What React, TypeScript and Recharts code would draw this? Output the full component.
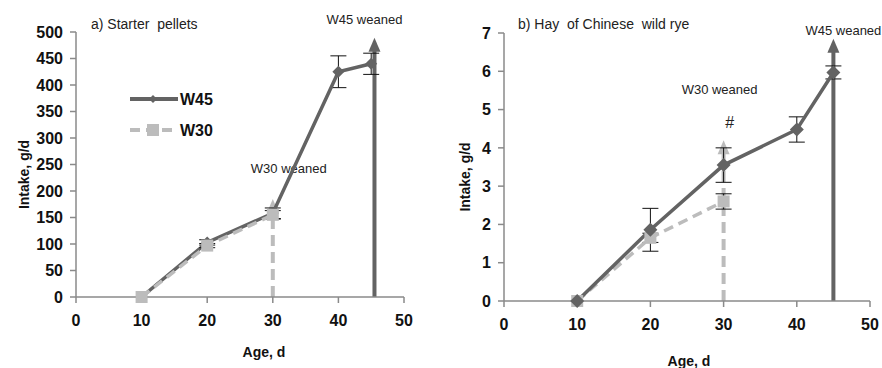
import React from "react";
import {
  LineChart,
  Line,
  XAxis,
  YAxis,
  ErrorBar,
  ReferenceLine,
} from "recharts";

const ages = [10, 20, 30, 40, 45];
const ageTicks = [0, 10, 20, 30, 40, 50];

const pelletW45 = [0, 103, 158, 425, 440];
const pelletW45Err = [0, 5, 10, 30, 20];
const pelletW30 = [0, 97, 155, null, null];
const pelletW30Err = [0, 4, 8, null, null];
const pelletTicks = [0, 50, 100, 150, 200, 250, 300, 350, 400, 450, 500];

const hayW45 = [0, 1.86, 3.55, 4.48, 5.97];
const hayW45Err = [0, 0.56, 0.45, 0.33, 0.17];
const hayW30 = [0, 1.65, 2.6, null, null];
const hayW30Err = [0, 0.12, 0.2, null, null];
const hayTicks = [0, 1, 2, 3, 4, 5, 6, 7];

const DARK = "#636363";
const LIGHT = "#bcbcbc";
const FONT = "'Liberation Sans', Arial, sans-serif";

const pellets = ages.map((a, i) => ({
  age: a,
  w45: pelletW45[i],
  w45err: pelletW45Err[i],
  w30: pelletW30[i],
  w30err: pelletW30Err[i],
}));

const hay = ages.map((a, i) => ({
  age: a,
  w45: hayW45[i],
  w45err: hayW45Err[i],
  w30: hayW30[i],
  w30err: hayW30Err[i],
}));

const Diamond = (size: number) => (p: any) => {
  if (p.value == null || p.cy == null) return <g key={p.index} />;
  const { cx, cy } = p;
  return (
    <polygon
      key={p.index}
      points={`${cx},${cy - size} ${cx + size},${cy} ${cx},${cy + size} ${cx - size},${cy}`}
      fill={DARK}
    />
  );
};

const Square = (size: number) => (p: any) => {
  if (p.value == null || p.cy == null) return <g key={p.index} />;
  const { cx, cy } = p;
  return <rect key={p.index} x={cx - size} y={cy - size} width={size * 2} height={size * 2} fill={LIGHT} />;
};

// vertical arrow with a text above it
const arrow =
  (color: string, dashed: boolean, texts: { t: string; dx: number; dy: number; size: number }[]) =>
  (p: any) => {
    const x = p.x1;
    const top = Math.min(p.y1, p.y2);
    const bottom = Math.max(p.y1, p.y2);
    return (
      <g>
        <line
          x1={x}
          x2={x}
          y1={bottom}
          y2={top + 12}
          stroke={color}
          strokeWidth={4}
          strokeDasharray={dashed ? "11 6" : undefined}
        />
        <polygon points={`${x},${top} ${x + 6},${top + 14} ${x - 6},${top + 14}`} fill={color} />
        {texts.map((tx) => (
          <text
            key={tx.t}
            x={x + tx.dx}
            y={top + tx.dy}
            textAnchor="middle"
            fontFamily={FONT}
            fontSize={tx.size}
            fill="#222"
          >
            {tx.t}
          </text>
        ))}
      </g>
    );
  };

const tickStyle = { fontFamily: FONT, fontSize: 16, fontWeight: "bold", fill: "#111" };

const yLabel = (dx: number) => (p: any) => {
  const vb = p.viewBox;
  const cx = vb.x + dx;
  const cy = vb.y + vb.height / 2 + 10;
  return (
    <text
      x={cx}
      y={cy}
      transform={`rotate(-90 ${cx} ${cy})`}
      textAnchor="middle"
      dominantBaseline="middle"
      fontFamily={FONT}
      fontSize={14}
      fontWeight="bold"
      fill="#111"
    >
      Intake, g/d
    </text>
  );
};

const xLabel = (dx: number, y: number) => (p: any) => {
  const vb = p.viewBox;
  return (
    <text
      x={vb.x + vb.width / 2 + dx}
      y={y}
      textAnchor="middle"
      fontFamily={FONT}
      fontSize={14}
      fontWeight="bold"
      fill="#111"
    >
      Age, d
    </text>
  );
};

const LegendBox = () => (
  <svg width={100} height={50} style={{ position: "absolute", left: 128, top: 89 }}>
    <line x1={2} x2={50} y1={10} y2={10} stroke={DARK} strokeWidth={4} />
    <polygon points="25,6 29,10 25,14 21,10" fill={DARK} />
    <text x={52} y={16} fontFamily={FONT} fontSize={16} fontWeight="bold" fill="#111">
      W45
    </text>
    <line x1={2} x2={46} y1={41} y2={41} stroke={LIGHT} strokeWidth={4} strokeDasharray="10 6" />
    <rect x={19} y={35} width={12} height={12} fill={LIGHT} />
    <text x={52} y={47} fontFamily={FONT} fontSize={16} fontWeight="bold" fill="#111">
      W30
    </text>
  </svg>
);

const axisLine = { stroke: "#8a8a8a", strokeWidth: 1.5 };

export default function App() {
  return (
    <div style={{ position: "absolute", left: 0, top: 0, width: 882, height: 368, background: "#fff" }}>
      <div style={{ position: "absolute", left: 0, top: 0 }}>
        <LineChart width={441} height={368} data={pellets} margin={{ top: 32, right: 37, bottom: 41, left: 36 }}>
          <XAxis
            dataKey="age"
            type="number"
            domain={[0, 50]}
            ticks={ageTicks}
            interval={0}
            height={30}
            tickSize={6}
            tickMargin={12}
            tick={tickStyle}
            axisLine={axisLine}
            tickLine={axisLine}
            label={{ content: xLabel(24, 357) }}
          />
          <YAxis
            type="number"
            domain={[0, 500]}
            ticks={pelletTicks}
            interval={0}
            width={40}
            tickSize={6}
            tickMargin={7}
            tick={tickStyle}
            axisLine={axisLine}
            tickLine={axisLine}
            label={{ content: yLabel(-11) }}
          />
          <ReferenceLine
            segment={[
              { x: 30, y: 0 },
              { x: 30, y: 185 },
            ]}
            shape={arrow(LIGHT, true, [{ t: "W30 weaned", dx: 16, dy: -26, size: 13 }])}
          />
          <ReferenceLine
            segment={[
              { x: 45.5, y: 0 },
              { x: 45.5, y: 489 },
            ]}
            shape={arrow(DARK, false, [{ t: "W45 weaned", dx: -10, dy: -14, size: 13 }])}
          />
          <Line
            dataKey="w45"
            stroke={DARK}
            strokeWidth={3.5}
            dot={Diamond(6)}
            isAnimationActive={false}
          >
            <ErrorBar dataKey="w45err" direction="y" width={8} stroke="#111" strokeWidth={1} />
          </Line>
          <Line
            dataKey="w30"
            stroke={LIGHT}
            strokeWidth={3.5}
            strokeDasharray="10 6"
            dot={Square(6)}
            isAnimationActive={false}
          >
            <ErrorBar dataKey="w30err" direction="y" width={8} stroke="#111" strokeWidth={1} />
          </Line>
          <text x={91} y={29} fontFamily={FONT} fontSize={14} fill="#222" style={{ whiteSpace: "pre" }}>
            a) Starter  pellets
          </text>
        </LineChart>
        <LegendBox />
      </div>
      <div style={{ position: "absolute", left: 441, top: 0 }}>
        <LineChart width={441} height={368} data={hay} margin={{ top: 33, right: 12, bottom: 37, left: 23 }}>
          <XAxis
            dataKey="age"
            type="number"
            domain={[0, 50]}
            ticks={ageTicks}
            interval={0}
            height={30}
            tickSize={6}
            tickMargin={12}
            tick={tickStyle}
            axisLine={axisLine}
            tickLine={axisLine}
            label={{ content: xLabel(2, 366) }}
          />
          <YAxis
            type="number"
            domain={[0, 7]}
            ticks={hayTicks}
            interval={0}
            width={40}
            tickSize={6}
            tickMargin={7}
            tick={tickStyle}
            axisLine={axisLine}
            tickLine={axisLine}
            label={{ content: yLabel(2) }}
          />
          <ReferenceLine
            segment={[
              { x: 30, y: 0 },
              { x: 30, y: 4.2 },
            ]}
            shape={arrow(LIGHT, true, [
              { t: "W30 weaned", dx: -4, dy: -46, size: 13 },
              { t: "#", dx: 6, dy: -12, size: 16 },
            ])}
          />
          <ReferenceLine
            segment={[
              { x: 45, y: 0 },
              { x: 45, y: 6.85 },
            ]}
            shape={arrow(DARK, false, [{ t: "W45 weaned", dx: 10, dy: -4, size: 13 }])}
          />
          <Line
            dataKey="w30"
            stroke={LIGHT}
            strokeWidth={3.5}
            strokeDasharray="10 6"
            dot={Square(6)}
            isAnimationActive={false}
          >
            <ErrorBar dataKey="w30err" direction="y" width={8} stroke="#111" strokeWidth={1} />
          </Line>
          <Line
            dataKey="w45"
            stroke={DARK}
            strokeWidth={3.5}
            dot={Diamond(7)}
            isAnimationActive={false}
          >
            <ErrorBar dataKey="w45err" direction="y" width={8} stroke="#111" strokeWidth={1} />
          </Line>
          <text x={77} y={29} fontFamily={FONT} fontSize={14} fill="#222" style={{ whiteSpace: "pre" }}>
            b) Hay  of Chinese  wild rye
          </text>
        </LineChart>
      </div>
    </div>
  );
}
